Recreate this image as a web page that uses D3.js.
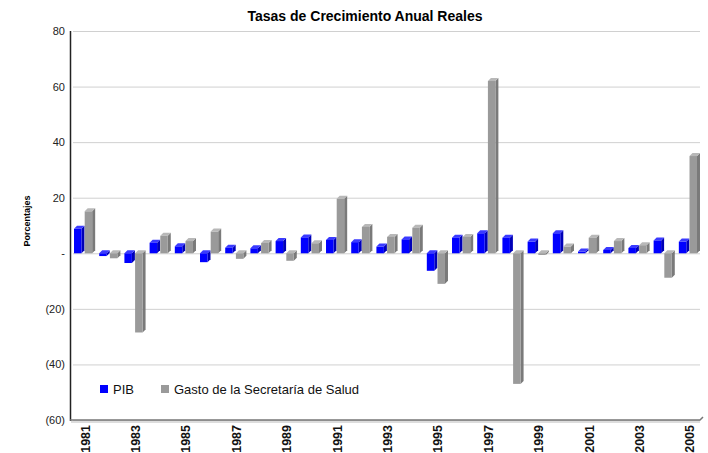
<!DOCTYPE html>
<html>
<head>
<meta charset="utf-8">
<script src="https://cdn.jsdelivr.net/npm/d3@7"></script>
<style>
  body { margin: 0; background: #fff; }
  svg { display: block; font-family: "Liberation Sans", Arial, sans-serif; }
</style>
</head>
<body>
<svg width="708" height="453"></svg>
<script>
/*------------------------
  ------ VARIABLES -------
  ------------------------*/

// data
var years = [1981, 1982, 1983, 1984, 1985, 1986, 1987, 1988, 1989, 1990,
             1991, 1992, 1993, 1994, 1995, 1996, 1997, 1998, 1999, 2000,
             2001, 2002, 2003, 2004, 2005];
var pib = [8.8, -1.0, -3.5, 3.8, 2.5, -3.2, 2.0, 1.8, 4.4, 5.7,
           4.8, 4.0, 2.4, 5.0, -6.3, 5.6, 7.2, 5.6, 4.2, 7.2,
           0.6, 1.2, 1.9, 4.6, 4.2];
var gasto = [15.1, -1.8, -28.5, 6.3, 4.4, 7.8, -2.0, 3.7, -2.7, 3.6,
             19.6, 9.5, 5.9, 9.2, -11.0, 5.9, 62.0, -47.0, -0.6, 2.4,
             5.6, 4.4, 2.9, -8.8, 35.0];
var series = ["PIB", "Gasto de la Secretaría de Salud"];
var y_ticks = [80, 60, 40, 20, 0, -20, -40, -60];

// display
var plot = {left: 73, right: 701, top: 31, bot: 420};
var colors = {front: ["#0000ff", "#9a9a9a"], side: ["#0000b8", "#7a7a7a"], top: ["#3a3aff", "#b8b8b8"]};
var depth = 3;

var svg = d3.select("svg");

var y = d3.scaleLinear().domain([-60, 80]).range([plot.bot, plot.top]);
var x0 = d3.scaleBand().domain(years).range([plot.left, plot.right]).paddingInner(0.16).paddingOuter(0.04);
var x1 = d3.scaleBand().domain([0, 1]).range([0, x0.bandwidth()]).paddingInner(0.02);

function tick_txt(v) {
    if (v == 0) return "-";
    if (v < 0) return "(" + (-v) + ")";
    return "" + v;
}

/*---------------------
  ------ GRID ---------
  ---------------------*/
svg.append("g")
    .selectAll("line")
    .data(y_ticks)
    .enter()
    .append("line")
    .attr("x1", plot.left)
    .attr("x2", 700)
    .attr("y1", function(d) { return y(d) + 0.5; })
    .attr("y2", function(d) { return y(d) + 0.5; })
    .attr("stroke", "#d0d0d0")
    .attr("stroke-width", 1);

svg.append("g")
    .selectAll("text")
    .data(y_ticks)
    .enter()
    .append("text")
    .attr("x", 65)
    .attr("y", function(d) { return y(d) + 4; })
    .attr("text-anchor", "end")
    .attr("font-size", 11)
    .attr("fill", "#222")
    .text(tick_txt);

/*---------------------
  ------ BARS ---------
  ---------------------*/
var rows = years.map(function(yr, i) {
    return {year: yr, vals: [pib[i], gasto[i]]};
});

var bw = x1.bandwidth() - depth;

var yr_g = svg.append("g")
    .selectAll("g")
    .data(rows)
    .enter()
    .append("g")
    .attr("transform", function(d) { return "translate(" + x0(d.year) + ",0)"; });

var bars = yr_g.selectAll("g")
    .data(function(d) { return d.vals.map(function(v, k) { return {v: v, k: k}; }); })
    .enter()
    .append("g");

function bar_top(d) { return Math.min(y(d.v), y(0)); }
function bar_bot(d) { return Math.max(y(d.v), y(0)); }

// side face
bars.append("path")
    .attr("fill", function(d) { return colors.side[d.k]; })
    .attr("d", function(d) {
        var xl = x1(d.k) + bw, t = bar_top(d), b = bar_bot(d);
        return "M" + xl + "," + t + "L" + (xl + depth) + "," + (t - depth) +
               "L" + (xl + depth) + "," + (b - depth) + "L" + xl + "," + b + "Z";
    });
// top face
bars.append("path")
    .attr("fill", function(d) { return colors.top[d.k]; })
    .attr("d", function(d) {
        var xl = x1(d.k), t = bar_top(d);
        return "M" + xl + "," + t + "L" + (xl + depth) + "," + (t - depth) +
               "L" + (xl + bw + depth) + "," + (t - depth) + "L" + (xl + bw) + "," + t + "Z";
    });
// front face
bars.append("rect")
    .attr("x", function(d) { return x1(d.k); })
    .attr("y", bar_top)
    .attr("width", bw)
    .attr("height", function(d) { return Math.max(1, bar_bot(d) - bar_top(d)); })
    .attr("fill", function(d) { return colors.front[d.k]; });

/*---------------------
  ------ AXES ---------
  ---------------------*/
svg.append("line")
    .attr("x1", 70.5).attr("x2", 70.5)
    .attr("y1", plot.top).attr("y2", plot.bot + 1)
    .attr("stroke", "#222").attr("stroke-width", 1.5);

svg.append("path")
    .attr("d", "M70," + plot.bot + "L700," + plot.bot + "L703," + (plot.bot - 3))
    .attr("fill", "none")
    .attr("stroke", "#777")
    .attr("stroke-width", 1.5);
svg.append("line")
    .attr("x1", 71).attr("x2", 700)
    .attr("y1", plot.bot + 2).attr("y2", plot.bot + 2)
    .attr("stroke", "#bbb").attr("stroke-width", 1);

svg.append("g")
    .selectAll("text")
    .data(years.filter(function(d) { return d % 2 == 1; }))
    .enter()
    .append("text")
    .attr("transform", function(d) {
        return "translate(" + (x0(d) + x0.bandwidth() / 2 + 5) + "," + (plot.bot + 5) + ") rotate(-90)";
    })
    .attr("text-anchor", "end")
    .attr("font-size", 12.5)
    .attr("font-weight", "bold")
    .attr("fill", "#111")
    .text(function(d) { return d; });

svg.append("text")
    .attr("transform", "translate(30,221) rotate(-90)")
    .attr("text-anchor", "middle")
    .attr("font-size", 9)
    .attr("font-weight", "bold")
    .text("Porcentajes");

svg.append("text")
    .attr("x", 365)
    .attr("y", 21)
    .attr("text-anchor", "middle")
    .attr("font-size", 14)
    .attr("font-weight", "bold")
    .text("Tasas de Crecimiento Anual Reales");

/*---------------------
  ------ LEGEND -------
  ---------------------*/
var leg_x = [100, 161];
var leg = svg.append("g")
    .selectAll("g")
    .data(series)
    .enter()
    .append("g")
    .attr("transform", function(d, i) { return "translate(" + leg_x[i] + ",385)"; });
leg.append("rect")
    .attr("width", 8).attr("height", 8)
    .attr("fill", function(d, i) { return colors.front[i]; });
leg.append("text")
    .attr("x", 13).attr("y", 8.5)
    .attr("font-size", 13)
    .attr("fill", "#111")
    .text(function(d) { return d; });
</script>
</body>
</html>
